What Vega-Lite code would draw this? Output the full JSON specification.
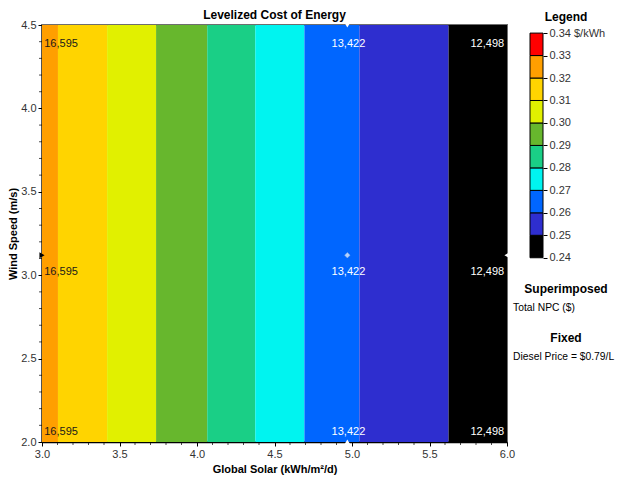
{
  "$schema": "https://vega.github.io/schema/vega-lite/v6.json",
  "background": "white",
  "padding": {"left": 6, "top": 8, "right": 0, "bottom": 0},
  "bounds": "flush",
  "spacing": 23,
  "config": {
    "font": "Liberation Sans",
    "view": {"stroke": "#6e6e6e", "strokeWidth": 2}
  },
  "datasets": {
    "bands": [
      {"solar_from": 3.0, "solar_to": 3.103, "wind_from": 2.0, "wind_to": 4.5, "lcoe": 0.325},
      {"solar_from": 3.103, "solar_to": 3.420, "wind_from": 2.0, "wind_to": 4.5, "lcoe": 0.315},
      {"solar_from": 3.420, "solar_to": 3.736, "wind_from": 2.0, "wind_to": 4.5, "lcoe": 0.305},
      {"solar_from": 3.736, "solar_to": 4.066, "wind_from": 2.0, "wind_to": 4.5, "lcoe": 0.295},
      {"solar_from": 4.066, "solar_to": 4.376, "wind_from": 2.0, "wind_to": 4.5, "lcoe": 0.285},
      {"solar_from": 4.376, "solar_to": 4.693, "wind_from": 2.0, "wind_to": 4.5, "lcoe": 0.275},
      {"solar_from": 4.693, "solar_to": 5.048, "wind_from": 2.0, "wind_to": 4.5, "lcoe": 0.265},
      {"solar_from": 5.048, "solar_to": 5.623, "wind_from": 2.0, "wind_to": 4.5, "lcoe": 0.255},
      {"solar_from": 5.623, "solar_to": 6.0, "wind_from": 2.0, "wind_to": 4.5, "lcoe": 0.245}
    ],
    "npc": [
      {"solar": 3.123, "wind": 4.386, "npc": "16,595"},
      {"solar": 3.123, "wind": 3.019, "npc": "16,595"},
      {"solar": 3.123, "wind": 2.060, "npc": "16,595"},
      {"solar": 4.977, "wind": 4.386, "npc": "13,422"},
      {"solar": 4.977, "wind": 3.019, "npc": "13,422"},
      {"solar": 4.977, "wind": 2.060, "npc": "13,422"},
      {"solar": 5.873, "wind": 4.386, "npc": "12,498"},
      {"solar": 5.873, "wind": 3.019, "npc": "12,498"},
      {"solar": 5.873, "wind": 2.060, "npc": "12,498"}
    ],
    "current": [
      {"solar": 4.97, "wind": 3.12}
    ],
    "edges": [
      {"solar": 3.0, "wind": 3.12, "edge": "left"},
      {"solar": 4.97, "wind": 2.0, "edge": "bottom"},
      {"solar": 4.97, "wind": 4.5, "edge": "top"},
      {"solar": 6.0, "wind": 3.12, "edge": "right"}
    ],
    "minor_x": [
      {"solar": 3.1}, {"solar": 3.2}, {"solar": 3.3}, {"solar": 3.4},
      {"solar": 3.6}, {"solar": 3.7}, {"solar": 3.8}, {"solar": 3.9},
      {"solar": 4.1}, {"solar": 4.2}, {"solar": 4.3}, {"solar": 4.4},
      {"solar": 4.6}, {"solar": 4.7}, {"solar": 4.8}, {"solar": 4.9},
      {"solar": 5.1}, {"solar": 5.2}, {"solar": 5.3}, {"solar": 5.4},
      {"solar": 5.6}, {"solar": 5.7}, {"solar": 5.8}, {"solar": 5.9}
    ],
    "minor_y": [
      {"wind": 2.1}, {"wind": 2.2}, {"wind": 2.3}, {"wind": 2.4},
      {"wind": 2.6}, {"wind": 2.7}, {"wind": 2.8}, {"wind": 2.9},
      {"wind": 3.1}, {"wind": 3.2}, {"wind": 3.3}, {"wind": 3.4},
      {"wind": 3.6}, {"wind": 3.7}, {"wind": 3.8}, {"wind": 3.9},
      {"wind": 4.1}, {"wind": 4.2}, {"wind": 4.3}, {"wind": 4.4}
    ],
    "legend_bins": [
      {"lo": 0.24, "hi": 0.25, "mid": 0.245},
      {"lo": 0.25, "hi": 0.26, "mid": 0.255},
      {"lo": 0.26, "hi": 0.27, "mid": 0.265},
      {"lo": 0.27, "hi": 0.28, "mid": 0.275},
      {"lo": 0.28, "hi": 0.29, "mid": 0.285},
      {"lo": 0.29, "hi": 0.30, "mid": 0.295},
      {"lo": 0.30, "hi": 0.31, "mid": 0.305},
      {"lo": 0.31, "hi": 0.32, "mid": 0.315},
      {"lo": 0.32, "hi": 0.33, "mid": 0.325},
      {"lo": 0.33, "hi": 0.34, "mid": 0.335}
    ],
    "legend_heads": [
      {"label": "Legend", "px": 2.77, "py": 0.3472},
      {"label": "Superimposed", "px": 2.77, "py": 0.2261},
      {"label": "Fixed", "px": 2.77, "py": 0.2043}
    ],
    "legend_items": [
      {"label": "Total NPC ($)", "px": -1.3, "py": 0.2177},
      {"label": "Diesel Price = $0.79/L", "px": -1.3, "py": 0.1958}
    ]
  },
  "hconcat": [
    {
      "width": 465,
      "height": 417,
      "title": {"text": "Levelized Cost of Energy", "fontSize": 12, "fontWeight": "bold", "anchor": "middle", "offset": -3, "color": "#000"},
      "layer": [
        {
          "data": {"name": "bands"},
          "mark": {"type": "rect"},
          "encoding": {
            "x": {
              "field": "solar_from", "type": "quantitative",
              "scale": {"domain": [3, 6], "nice": false, "zero": false},
              "title": "Global Solar (kWh/m²/d)",
              "axis": {
                "values": [3.0, 3.5, 4.0, 4.5, 5.0, 5.5, 6.0],
                "format": ".1f",
                "tickSize": 4, "tickColor": "#000", "domainColor": "#000", "domainWidth": 1.5,
                "labelFontSize": 11, "labelColor": "#333", "labelPadding": 2,
                "labelOverlap": false, "labelFlush": false,
                "titleFontSize": 11, "titleFontWeight": "bold", "titleColor": "#000", "titlePadding": 4,
                "grid": false
              }
            },
            "x2": {"field": "solar_to"},
            "y": {
              "field": "wind_from", "type": "quantitative",
              "scale": {"domain": [2, 4.5], "nice": false, "zero": false},
              "title": "Wind Speed (m/s)",
              "axis": {
                "values": [2.0, 2.5, 3.0, 3.5, 4.0, 4.5],
                "format": ".1f",
                "tickSize": 4, "tickColor": "#000", "domainColor": "#000", "domainWidth": 1.5,
                "labelFontSize": 11, "labelColor": "#333", "labelPadding": 2,
                "labelOverlap": false, "labelFlush": false,
                "titleFontSize": 11, "titleFontWeight": "bold", "titleColor": "#000", "titlePadding": 2,
                "grid": false
              }
            },
            "y2": {"field": "wind_to"},
            "color": {
              "field": "lcoe", "type": "quantitative",
              "scale": {"type": "threshold", "domain": [0.25,0.26,0.27,0.28,0.29,0.30,0.31,0.32,0.33],
                "range": ["#000000","#2E2ECF","#0066FF","#00F4F0","#1ACF86","#67B72D","#E1F000","#FFD400","#FF9F00","#FF0000"]},
              "legend": null
            }
          }
        },
        {
          "data": {"name": "minor_x"},
          "mark": {"type": "tick", "orient": "vertical", "size": 3, "thickness": 1, "color": "#000", "yOffset": 1.5, "clip": false},
          "encoding": {
            "x": {"field": "solar", "type": "quantitative"},
            "y": {"datum": 2.0, "type": "quantitative"}
          }
        },
        {
          "data": {"name": "minor_y"},
          "mark": {"type": "tick", "orient": "horizontal", "size": 3, "thickness": 1, "color": "#000", "xOffset": -1.5, "clip": false},
          "encoding": {
            "y": {"field": "wind", "type": "quantitative"},
            "x": {"datum": 3.0, "type": "quantitative"}
          }
        },
        {
          "data": {"name": "npc"},
          "mark": {"type": "text", "fontSize": 11, "align": "center", "baseline": "middle"},
          "encoding": {
            "x": {"field": "solar", "type": "quantitative"},
            "y": {"field": "wind", "type": "quantitative"},
            "text": {"field": "npc"},
            "color": {"condition": {"test": "datum.solar > 4", "value": "#ffffff"}, "value": "#1a1a1a"}
          }
        },
        {
          "data": {"name": "current"},
          "mark": {"type": "point", "shape": "diamond", "filled": true, "color": "#ffffff", "size": 30, "stroke": "#cccccc", "strokeWidth": 0.5},
          "encoding": {
            "x": {"field": "solar", "type": "quantitative"},
            "y": {"field": "wind", "type": "quantitative"}
          }
        },
        {
          "data": {"name": "edges"},
          "mark": {"type": "point", "filled": true, "size": 35, "opacity": 1},
          "encoding": {
            "x": {"field": "solar", "type": "quantitative"},
            "y": {"field": "wind", "type": "quantitative"},
            "shape": {"field": "edge", "type": "nominal", "scale": {"domain": ["left","bottom","top","right"], "range": ["triangle-right","triangle-up","triangle-down","triangle-left"]}, "legend": null},
            "color": {"condition": {"test": "datum.edge == 'left'", "value": "#000000"}, "value": "#ffffff"}
          }
        }
      ]
    },
    {
      "width": 13,
      "height": 417,
      "view": {"stroke": null},
      "layer": [
        {
          "data": {"name": "legend_bins"},
          "mark": {"type": "rect", "stroke": "#000", "strokeWidth": 1},
          "encoding": {
            "x": {"datum": 0, "type": "quantitative", "scale": {"domain": [0, 1], "nice": false, "zero": false}, "axis": null},
            "x2": {"datum": 1},
            "y": {
              "field": "lo", "type": "quantitative",
              "scale": {"domain": [0.158, 0.3436], "nice": false, "zero": false},
              "title": null,
              "axis": {
                "orient": "right",
                "values": [0.24,0.25,0.26,0.27,0.28,0.29,0.30,0.31,0.32,0.33,0.34],
                "labelExpr": "datum.value > 0.3395 ? '0.34 $/kWh' : format(datum.value, '.2f')",
                "tickSize": 4, "tickColor": "#000", "domain": false, "grid": false,
                "labelFontSize": 11, "labelColor": "#333", "labelPadding": 2,
                "labelOverlap": false, "labelFlush": false
              }
            },
            "y2": {"field": "hi"},
            "color": {
              "field": "mid", "type": "quantitative",
              "scale": {"type": "threshold", "domain": [0.25,0.26,0.27,0.28,0.29,0.30,0.31,0.32,0.33],
                "range": ["#000000","#2E2ECF","#0066FF","#00F4F0","#1ACF86","#67B72D","#E1F000","#FFD400","#FF9F00","#FF0000"]},
              "legend": null
            }
          }
        },
        {
          "data": {"name": "legend_heads"},
          "mark": {"type": "text", "fontSize": 12, "fontWeight": "bold", "align": "center", "baseline": "middle", "color": "#000"},
          "encoding": {
            "x": {"field": "px", "type": "quantitative", "axis": null},
            "y": {"field": "py", "type": "quantitative"},
            "text": {"field": "label"}
          }
        },
        {
          "data": {"name": "legend_items"},
          "mark": {"type": "text", "fontSize": 10.3, "align": "left", "baseline": "middle", "color": "#000"},
          "encoding": {
            "x": {"field": "px", "type": "quantitative", "axis": null},
            "y": {"field": "py", "type": "quantitative"},
            "text": {"field": "label"}
          }
        }
      ]
    }
  ]
}
